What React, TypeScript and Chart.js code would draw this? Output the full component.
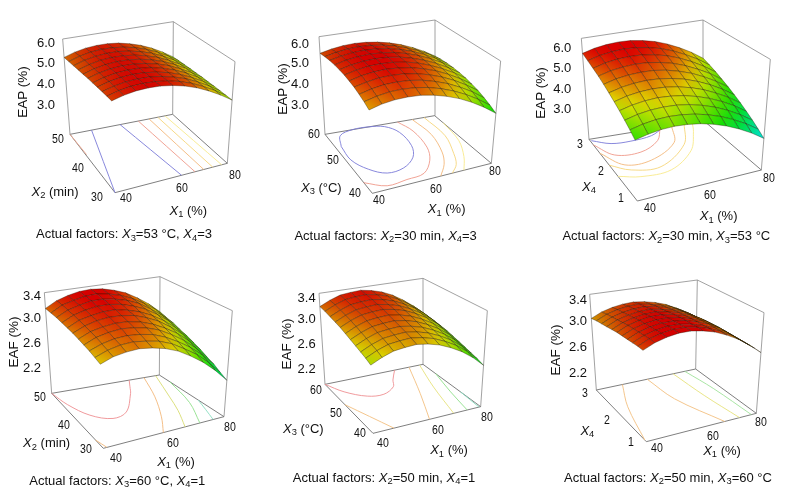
import React, { useEffect, useRef } from "react";
import { Chart, registerables } from "chart.js";
Chart.register(...registerables);

// ---- read-off surface heights: rows run over the second factor (low to high), columns over X1 = 40..80 ----
const x1Ticks = ["40", "60", "80"];
const eapTicks = ["6.0", "5.0", "4.0", "3.0"];
const eafTicks = ["3.4", "3.0", "2.6", "2.2"];
const eapX1X2 = [
  [5.52,5.66,5.75,5.78,5.76,5.68,5.55,5.36,5.11,4.81,4.46],
  [5.52,5.66,5.75,5.78,5.76,5.69,5.56,5.37,5.12,4.82,4.47],
  [5.51,5.65,5.75,5.78,5.77,5.69,5.56,5.38,5.13,4.83,4.48],
  [5.50,5.65,5.74,5.78,5.76,5.69,5.56,5.38,5.13,4.84,4.49],
  [5.48,5.63,5.73,5.77,5.76,5.69,5.56,5.38,5.14,4.84,4.49],
  [5.47,5.62,5.72,5.76,5.75,5.68,5.56,5.38,5.13,4.84,4.50],
  [5.44,5.60,5.70,5.75,5.74,5.67,5.55,5.37,5.13,4.84,4.49],
  [5.42,5.58,5.69,5.73,5.72,5.66,5.53,5.36,5.12,4.83,4.49],
  [5.39,5.56,5.66,5.71,5.71,5.64,5.52,5.35,5.11,4.82,4.48],
  [5.36,5.53,5.64,5.69,5.68,5.62,5.50,5.33,5.10,4.81,4.47],
  [5.33,5.50,5.61,5.66,5.66,5.60,5.48,5.31,5.08,4.79,4.45],
];
const eapX1X3 = [
  [5.10,5.25,5.33,5.35,5.32,5.22,5.06,4.85,4.57,4.23,3.83],
  [5.24,5.38,5.47,5.49,5.45,5.36,5.20,4.99,4.72,4.39,4.00],
  [5.35,5.49,5.58,5.60,5.57,5.48,5.32,5.12,4.85,4.53,4.14],
  [5.45,5.58,5.67,5.69,5.66,5.57,5.42,5.22,4.96,4.64,4.27],
  [5.51,5.65,5.73,5.76,5.72,5.64,5.49,5.30,5.04,4.73,4.36],
  [5.56,5.69,5.78,5.80,5.77,5.69,5.55,5.35,5.10,4.80,4.44],
  [5.58,5.71,5.79,5.82,5.79,5.71,5.57,5.38,5.14,4.84,4.49],
  [5.58,5.71,5.79,5.82,5.79,5.71,5.58,5.39,5.16,4.87,4.52],
  [5.56,5.68,5.76,5.79,5.76,5.69,5.56,5.38,5.15,4.86,4.53],
  [5.51,5.63,5.71,5.74,5.71,5.64,5.52,5.34,5.12,4.84,4.51],
  [5.44,5.56,5.64,5.67,5.64,5.57,5.45,5.28,5.06,4.79,4.47],
];
const eapX1X4 = [
  [4.08,4.21,4.29,4.31,4.27,4.18,4.03,3.83,3.57,3.26,2.89],
  [4.29,4.42,4.50,4.52,4.48,4.39,4.24,4.04,3.78,3.47,3.10],
  [4.48,4.62,4.70,4.72,4.69,4.60,4.45,4.25,3.99,3.67,3.30],
  [4.67,4.81,4.89,4.92,4.88,4.79,4.64,4.44,4.18,3.87,3.49],
  [4.84,4.99,5.07,5.10,5.07,4.98,4.83,4.63,4.36,4.05,3.67],
  [5.01,5.16,5.24,5.27,5.24,5.15,5.01,4.80,4.54,4.22,3.84],
  [5.17,5.32,5.40,5.43,5.41,5.32,5.17,4.97,4.70,4.38,4.00],
  [5.32,5.47,5.55,5.59,5.56,5.47,5.33,5.12,4.85,4.54,4.15],
  [5.45,5.61,5.70,5.73,5.71,5.62,5.48,5.27,5.00,4.68,4.30],
  [5.58,5.74,5.83,5.87,5.84,5.75,5.61,5.40,5.13,4.82,4.43],
  [5.70,5.86,5.95,5.99,5.97,5.88,5.74,5.53,5.26,4.94,4.55],
];
const eafX1X2 = [
  [3.02,3.09,3.12,3.13,3.10,3.05,2.97,2.85,2.71,2.54,2.34],
  [3.05,3.12,3.16,3.17,3.14,3.10,3.02,2.90,2.77,2.60,2.40],
  [3.08,3.15,3.19,3.20,3.18,3.14,3.06,2.95,2.82,2.66,2.47],
  [3.10,3.18,3.22,3.24,3.22,3.18,3.11,3.00,2.87,2.71,2.52],
  [3.12,3.20,3.24,3.26,3.25,3.21,3.14,3.04,2.92,2.76,2.58],
  [3.14,3.22,3.27,3.29,3.28,3.25,3.18,3.09,2.96,2.81,2.63],
  [3.15,3.24,3.28,3.31,3.31,3.27,3.21,3.12,3.00,2.85,2.68],
  [3.16,3.25,3.30,3.33,3.33,3.30,3.24,3.16,3.04,2.90,2.72],
  [3.17,3.26,3.31,3.35,3.35,3.32,3.27,3.19,3.07,2.93,2.77],
  [3.17,3.27,3.32,3.36,3.37,3.34,3.29,3.21,3.10,2.97,2.80],
  [3.17,3.27,3.33,3.37,3.38,3.36,3.31,3.24,3.13,3.00,2.84],
];
const eafX1X3 = [
  [2.96,3.04,3.10,3.12,3.13,3.10,3.05,2.97,2.87,2.74,2.58],
  [3.00,3.08,3.14,3.16,3.17,3.14,3.09,3.01,2.91,2.78,2.62],
  [3.03,3.11,3.17,3.19,3.20,3.17,3.12,3.04,2.94,2.81,2.65],
  [3.06,3.14,3.20,3.22,3.23,3.20,3.15,3.07,2.97,2.84,2.68],
  [3.09,3.17,3.23,3.25,3.26,3.23,3.18,3.10,3.00,2.87,2.71],
  [3.12,3.20,3.26,3.28,3.29,3.26,3.21,3.13,3.03,2.90,2.74],
  [3.15,3.23,3.29,3.31,3.32,3.29,3.24,3.16,3.06,2.93,2.77],
  [3.17,3.25,3.31,3.33,3.34,3.31,3.26,3.18,3.08,2.95,2.79],
  [3.19,3.27,3.33,3.35,3.36,3.33,3.28,3.20,3.10,2.97,2.81],
  [3.21,3.29,3.35,3.37,3.38,3.35,3.30,3.22,3.11,2.98,2.82],
  [3.22,3.30,3.36,3.38,3.39,3.36,3.31,3.23,3.12,2.99,2.83],
];
const eafX1X4 = [
  [3.23,3.31,3.36,3.39,3.39,3.36,3.31,3.23,3.13,3.00,2.85],
  [3.23,3.31,3.36,3.39,3.39,3.36,3.31,3.23,3.13,3.00,2.86],
  [3.22,3.30,3.35,3.38,3.38,3.35,3.30,3.23,3.13,3.00,2.86],
  [3.21,3.29,3.34,3.37,3.37,3.35,3.30,3.23,3.13,3.00,2.86],
  [3.20,3.28,3.33,3.36,3.36,3.34,3.29,3.22,3.12,3.00,2.86],
  [3.19,3.27,3.32,3.35,3.35,3.33,3.28,3.21,3.12,3.00,2.86],
  [3.17,3.25,3.30,3.33,3.34,3.31,3.27,3.20,3.11,2.99,2.85],
  [3.15,3.23,3.28,3.31,3.32,3.29,3.25,3.19,3.09,2.98,2.84],
  [3.13,3.21,3.26,3.29,3.30,3.28,3.23,3.17,3.08,2.96,2.83],
  [3.11,3.19,3.24,3.27,3.28,3.25,3.21,3.15,3.06,2.95,2.82],
  [3.08,3.16,3.21,3.24,3.25,3.23,3.19,3.13,3.04,2.93,2.80],
];

// ---- contour lines on the floor, as [X1, second factor] pairs ----
const contoursP1: [string, number[][]][] = [
  ["#f0a890", [[40,50],[40.3,43]]],
  ["#7a7ad8", [[48.4,50],[40,30]]],
  ["#7a7ad8", [[59.5,50],[63.7,30]]],
  ["#ef9a8a", [[66.6,50],[68.5,30]]],
  ["#f3b87a", [[70.8,50],[71.6,30]]],
  ["#f6d67a", [[74.2,50],[74.8,30]]],
  ["#f8ea8a", [[77,50],[78,30]]],
];
const contoursP2: [string, number[][]][] = [
  ["#7a7ad8", [[42,55.5],[44.5,58.8],[50,60],[56,60],[61,59.2],[63.8,56.5],[63.4,51.5],[60.5,47.8],[55,45.2],[49,44.8],[44.5,47.2],[41.6,51],[42,55.5]]],
  ["#ef9a8a", [[40,43.6],[45.9,41.1],[52.9,41.5],[59.2,42.1],[64.4,45.7],[67.4,50],[68.3,56.1],[66.4,60]]],
  ["#f3b87a", [[71.8,60],[72.6,53.8],[70.2,47.4],[67.2,43.4],[63,40]]],
  ["#f6d67a", [[76.1,60],[76.2,52.5],[73,46.1],[70.4,42.4],[66.9,40]]],
  ["#f8ea8a", [[80,57],[78.5,50],[74.8,44.3],[70.8,40]]],
];
const contoursP3: [string, number[][]][] = [
  ["#7a7ad8", [[40.4,2.95],[45.7,2.77],[52.3,2.74],[60,2.8],[66,3]]],
  ["#ef9a8a", [[40,2.82],[44,2.42],[52.4,2.36],[60.3,2.61],[64.8,3]]],
  ["#f3b87a", [[40,2.55],[44.6,2.08],[53.3,2.06],[64.6,2.46],[68.8,3]]],
  ["#f6d67a", [[40,2.16],[45.2,1.9],[54.4,1.81],[66.9,2.34],[73.2,3]]],
  ["#f8ea8a", [[40,1.8],[46.4,1.65],[56.4,1.65],[67,2.1],[73.4,2.69],[76,3]]],
];
const contoursP4: [string, number[][]][] = [
  ["#ee8f92", [[40,50],[41.6,45.6],[45.2,40.9],[50.8,38.3],[56.5,39.4],[64,45.2],[66.4,47.6],[68.8,50]]],
  ["#f3b87a", [[40,33],[41.2,30]]],
  ["#f3b87a", [[74.3,50],[69.7,42.4],[64.4,35.2],[59.9,30]]],
  ["#d8dc70", [[78.6,50],[73.7,41.3],[70.9,36],[67.1,30]]],
  ["#8fe08a", [[80,46.8],[76.8,37.8],[72,30]]],
  ["#88dcc0", [[80,38],[78.2,34],[76.4,30]]],
];
const contoursP5: [string, number[][]][] = [
  ["#ee8f92", [[40,60],[43.9,56.1],[50,52.9],[55.9,52.3],[61.6,54.2],[64,56.6],[68.4,60]]],
  ["#f3c080", [[40,51.7],[47.8,40]]],
  ["#f3c080", [[74.3,60],[67.4,49.7],[61,40]]],
  ["#e6e27a", [[78.6,60],[73.9,50.9],[70,40]]],
  ["#8fe08a", [[80,55.6],[77.1,47.8],[75,40]]],
  ["#88dcc0", [[80,47],[79.4,40]]],
];
const contoursP6: [string, number[][]][] = [
  ["#f3c080", [[50.5,3],[44.8,2.24],[40,1.06]]],
  ["#f3c080", [[60.5,3],[61.9,2.15],[68.5,1]]],
  ["#e6e27a", [[70.9,3],[72,2.03],[73.9,1]]],
  ["#9fe29a", [[75.6,3],[77.4,2.18],[78.2,1]]],
];

// ---- colour ramps of the two responses: height at blue, cyan, green, yellow, red ----
const eapRamp = [1.9, 2.88, 3.85, 4.83, 5.8];
const eafRamp = [1.8, 2.2, 2.6, 2.98, 3.35];
const eafRampMid = [1.86, 2.26, 2.66, 3.04, 3.41];
const rampRgb = [[0,0,255],[0,255,255],[0,255,0],[255,255,0],[255,0,0]];

type Pt = number[];
type Panel = {
  off: Pt; grid: number[][]; contours: [string, number[][]][]; ramp: number[];
  yMin: number; yMax: number; zMin: number; zMax: number;
  F: Pt; R: Pt; L: Pt; B: Pt; Ft: Pt; Rt: Pt; Lt: Pt; Bt: Pt;
  zTicks: string[]; zTickY: number[]; zTickX: number; zTitle: string; zTitlePos: Pt;
  yName: string; yUnit: string; yTitlePos: Pt; yTicks: string[]; yTickPos: Pt[];
  x1TitlePos: Pt; x1TickPos: Pt[]; cap: [string, string, string, string]; capPos: Pt;
};

const panels: Panel[] = [
  { off:[0,20], grid:eapX1X2, contours:contoursP1, ramp:eapRamp, yMin:30, yMax:50, zMin:1.53, zMax:6.24,
    F:[345,518], R:[682,430], L:[210,343], B:[518,283], Ft:[333,193], Rt:[705,125], Lt:[188,57], Bt:[520,5],
    zTicks:eapTicks, zTickY:[65,127,188,252], zTickX:165, zTitle:"EAP (%)", zTitlePos:[70,215],
    yName:"2", yUnit:" (min)", yTitlePos:[165,515], yTicks:["50","40","30"], yTickPos:[[173,357],[235,445],[290,530]],
    x1TitlePos:[565,572], x1TickPos:[[378,535],[547,505],[705,465]], cap:["3","=53 °C, ","4","=3"], capPos:[372,643] },
  { off:[264,20], grid:eapX1X3, contours:contoursP2, ramp:eapRamp, yMin:40, yMax:60, zMin:1.53, zMax:6.24,
    F:[325,520], R:[682,430], L:[183,343], B:[512,287], Ft:[312,190], Rt:[710,123], Lt:[165,50], Bt:[513,0],
    zTicks:eapTicks, zTickY:[68,127,188,252], zTickX:135, zTitle:"EAP (%)", zTitlePos:[58,207],
    yName:"3", yUnit:" (°C)", yTitlePos:[172,503], yTicks:["60","50","40"], yTickPos:[[150,342],[207,420],[272,520]],
    x1TitlePos:[548,567], x1TickPos:[[345,540],[517,507],[693,452]], cap:["2","=30 min, ","4","=3"], capPos:[365,647] },
  { off:[528,20], grid:eapX1X4, contours:contoursP3, ramp:eapRamp, yMin:1, yMax:3, zMin:1.47, zMax:6.44,
    F:[328,543], R:[700,450], L:[183,358], B:[527,302], Ft:[315,195], Rt:[727,118], Lt:[160,55], Bt:[525,0],
    zTicks:eapTicks, zTickY:[82,142,203,265], zTickX:130, zTitle:"EAP (%)", zTitlePos:[38,220],
    yName:"4", yUnit:"", yTitlePos:[183,500], yTicks:["3","2","1"], yTickPos:[[157,373],[220,452],[280,535]],
    x1TitlePos:[572,588], x1TickPos:[[365,565],[547,525],[722,475]], cap:["2","=30 min, ","3","=53 °C"], capPos:[415,648] },
  { off:[0,270], grid:eafX1X2, contours:contoursP4, ramp:eafRamp, yMin:30, yMax:50, zMin:1.77, zMax:3.43,
    F:[310,535], R:[672,440], L:[155,370], B:[478,315], Ft:[298,200], Rt:[697,122], Lt:[133,68], Bt:[480,20],
    zTicks:eafTicks, zTickY:[75,140,215,292], zTickX:123, zTitle:"EAF (%)", zTitlePos:[43,215],
    yName:"2", yUnit:" (min)", yTitlePos:[140,520], yTicks:["50","40","30"], yTickPos:[[120,380],[192,465],[258,537]],
    x1TitlePos:[528,575], x1TickPos:[[348,563],[520,520],[690,472]], cap:["3","=60 °C, ","4","=1"], capPos:[352,632] },
  { off:[264,270], grid:eafX1X3, contours:contoursP5, ramp:eafRampMid, yMin:40, yMax:60, zMin:1.93, zMax:3.44,
    F:[327,490], R:[650,410], L:[183,343], B:[477,283], Ft:[317,190], Rt:[670,122], Lt:[165,70], Bt:[477,25],
    zTicks:eafTicks, zTickY:[80,145,220,295], zTickX:155, zTitle:"EAF (%)", zTitlePos:[70,222],
    yName:"3", yUnit:" (°C)", yTitlePos:[118,476], yTicks:["60","50","40"], yTickPos:[[155,360],[215,430],[287,490]],
    x1TitlePos:[555,540], x1TickPos:[[358,518],[523,480],[670,440]], cap:["2","=50 min, ","4","=1"], capPos:[360,623] },
  { off:[528,270], grid:eafX1X4, contours:contoursP6, ramp:eafRamp, yMin:1, yMax:3, zMin:1.89, zMax:3.48,
    F:[355,515], R:[685,430], L:[205,360], B:[503,297], Ft:[343,190], Rt:[708,128], Lt:[185,73], Bt:[508,30],
    zTicks:eafTicks, zTickY:[88,150,228,305], zTickX:177, zTitle:"EAF (%)", zTitlePos:[85,240],
    yName:"4", yUnit:"", yTitlePos:[178,482], yTicks:["3","2","1"], yTickPos:[[170,370],[238,450],[308,515]],
    x1TitlePos:[582,542], x1TickPos:[[388,533],[555,497],[700,457]], cap:["2","=50 min, ","3","=60 °C"], capPos:[420,623] },
];

// panel coordinates are measured on a 3x view of a panel's own corner
const toPage = (p: Panel, q: Pt): Pt => [p.off[0] + q[0] / 3, p.off[1] + q[1] / 3];

const bil = (a: Pt, b: Pt, c: Pt, d: Pt, u: number, v: number): Pt => [
  a[0]*(1-u)*(1-v) + b[0]*u*(1-v) + c[0]*(1-u)*v + d[0]*u*v,
  a[1]*(1-u)*(1-v) + b[1]*u*(1-v) + c[1]*(1-u)*v + d[1]*u*v,
];
const project = (p: Panel, u: number, v: number, t: number) => {
  const lo = bil(p.F, p.R, p.L, p.B, u, v);
  const hi = bil(p.Ft, p.Rt, p.Lt, p.Bt, u, v);
  const q = toPage(p, [lo[0] + (hi[0]-lo[0])*t, lo[1] + (hi[1]-lo[1])*t]);
  return { x: q[0], y: q[1] };
};
const rgbOf = (ramp: number[], z: number): number[] => {
  if (z <= ramp[0]) return rampRgb[0];
  for (let k = 1; k < ramp.length; k++) {
    if (z <= ramp[k]) {
      const f = (z - ramp[k-1]) / (ramp[k] - ramp[k-1]);
      return rampRgb[k-1].map((a, n) => a + (rampRgb[k][n] - a) * f);
    }
  }
  return rampRgb[4];
};
const css = (c: number[], s: number) => `rgb(${c.map((a) => Math.round(a * s)).join(",")})`;
const dist = (a: any, b: any) => Math.hypot(a.x - b.x, a.y - b.y);

const line = (data: {x:number;y:number}[], color: string, width: number, tension = 0) => ({
  data, showLine: true, fill: false, borderColor: color, borderWidth: width, pointRadius: 0, tension, clip: false,
});

function buildDatasets() {
  const gfx = document.createElement("canvas").getContext("2d")!;
  const out: any[] = [];
  for (const p of panels) {
    const c = (u: number, v: number, t: number) => project(p, u, v, t);
    out.push(line([c(0,1,0),c(0,1,1),c(1,1,1),c(1,0,1),c(1,0,0)], "#8a8a8a", 0.8));
    out.push(line([c(1,1,0),c(1,1,1)], "#8a8a8a", 0.8));
    out.push(line([c(0,0,0),c(1,0,0),c(1,1,0),c(0,1,0),c(0,0,0)], "#707070", 0.9));
    for (const [color, pts] of p.contours) {
      out.push(line(pts.map(([a, b]) => c((a-40)/40, (b-p.yMin)/(p.yMax-p.yMin), 0)), color, 0.9, 0.35));
    }
    const n = p.grid.length - 1, m = p.grid[0].length - 1;
    const h = (z: number) => (z - p.zMin) / (p.zMax - p.zMin);
    for (let i = m - 1; i >= 0; i--) {
      for (let j = n - 1; j >= 0; j--) {
        const z00 = p.grid[j][i], z10 = p.grid[j][i+1], z01 = p.grid[j+1][i], z11 = p.grid[j+1][i+1];
        const a = c(i/m, j/n, h(z00)), b = c((i+1)/m, j/n, h(z10)), d = c((i+1)/m, (j+1)/n, h(z11)), e = c(i/m, (j+1)/n, h(z01));
        // dark grid lines cover more of a cell the flatter it looks on screen
        const wu = (dist(a, b) + dist(e, d)) / 2, wv = (dist(a, e) + dist(b, d)) / 2;
        const cover = 1 - Math.max(0.1, 1 - 1.3 / Math.max(wu, 1.4)) * Math.max(0.1, 1 - 1.3 / Math.max(wv, 1.4));
        const shade = 1 - 0.62 * cover;
        const useMain = Math.abs(z11 - z00) >= Math.abs(z10 - z01);
        const g = useMain
          ? gfx.createLinearGradient(a.x, a.y, d.x, d.y)
          : gfx.createLinearGradient(b.x, b.y, e.x, e.y);
        g.addColorStop(0, css(rgbOf(p.ramp, useMain ? z00 : z10), shade));
        g.addColorStop(1, css(rgbOf(p.ramp, useMain ? z11 : z01), shade));
        out.push({
          data: [a, b, d, e, a], showLine: true, fill: "shape", backgroundColor: g,
          borderColor: "rgba(30,20,0,0.6)", borderWidth: 0.6, pointRadius: 0, tension: 0, clip: false,
        });
      }
    }
  }
  return out.reverse(); // Chart.js paints the last dataset first
}

const font = '"Liberation Sans", Arial, sans-serif';
const sub: React.CSSProperties = { fontSize: "72%", position: "relative", top: "0.28em" };
const T = ({ pos, children, size = 13, anchor = "-50%", sx = 1, rot = 0 }: any) => (
  <div style={{
    position: "absolute", left: pos[0], top: pos[1], fontFamily: font, fontSize: size, color: "#111",
    whiteSpace: "nowrap", lineHeight: 1,
    transform: `translate(${anchor},-50%) rotate(${rot}deg) scaleX(${sx})`,
  }}>{children}</div>
);
const V = ({ n }: { n: string }) => (<><i>X</i><span style={sub}>{n}</span></>);

export default function App() {
  const ref = useRef<HTMLCanvasElement>(null);
  useEffect(() => {
    const chart = new Chart(ref.current!, {
      type: "scatter",
      data: { datasets: buildDatasets() },
      options: {
        animation: false, responsive: false, maintainAspectRatio: false,
        layout: { padding: 0 },
        plugins: { legend: { display: false }, tooltip: { enabled: false }, title: { display: false } },
        events: [],
        scales: {
          x: { type: "linear", min: 0, max: 792, display: false },
          y: { type: "linear", min: 0, max: 497, reverse: true, display: false },
        },
      },
    });
    return () => chart.destroy();
  }, []);
  return (
    <div style={{ position: "absolute", left: 0, top: 0, width: 792, height: 497, overflow: "hidden", background: "#fff" }}>
      <canvas ref={ref} width={792} height={497} style={{ display: "block", position: "absolute", left: 0, top: 0 }} />
      {panels.map((p, k) => (
        <React.Fragment key={k}>
          {p.zTicks.map((t, i) => (
            <T key={t} pos={toPage(p, [p.zTickX, p.zTickY[i]])} size={13} anchor="-100%">{t}</T>
          ))}
          <T pos={toPage(p, p.zTitlePos)} size={13.5} rot={-90}>{p.zTitle}</T>
          <T pos={toPage(p, p.yTitlePos)}><V n={p.yName} />{p.yUnit}</T>
          {p.yTicks.map((t, i) => (
            <T key={t} pos={toPage(p, p.yTickPos[i])} size={12} sx={0.88}>{t}</T>
          ))}
          <T pos={toPage(p, p.x1TitlePos)}><V n="1" /> (%)</T>
          {x1Ticks.map((t, i) => (
            <T key={t} pos={toPage(p, p.x1TickPos[i])} size={12} sx={0.88}>{t}</T>
          ))}
          <T pos={toPage(p, p.capPos)}>Actual factors: <V n={p.cap[0]} />{p.cap[1]}<V n={p.cap[2]} />{p.cap[3]}</T>
        </React.Fragment>
      ))}
    </div>
  );
}
